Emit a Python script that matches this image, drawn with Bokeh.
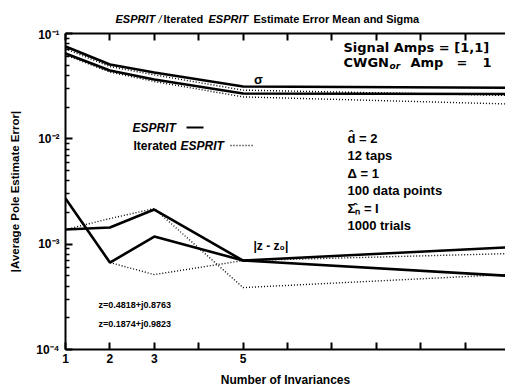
import math
from bokeh.plotting import figure
from bokeh.layouts import column
from bokeh.models import LinearAxis, FixedTicker, Label, Arrow, Range1d
from bokeh.embed import file_html
from bokeh.resources import INLINE

# ---------------- data ----------------
x_invariances = [1, 2, 3, 5, 11]
# sigma group (upper curves)
esprit_sigma_1 = [0.0752, 0.0508, 0.0426, 0.0314, 0.0305]
esprit_sigma_2 = [0.0646, 0.0445, 0.0366, 0.0269, 0.0266]
iterated_sigma_1 = [0.0715, 0.0485, 0.0405, 0.0290, 0.0258]
iterated_sigma_2 = [0.0625, 0.0430, 0.0350, 0.0250, 0.0214]
# |z - z0| group (lower curves)
esprit_err_1 = [0.00271, 0.000669, 0.00118, 0.000699, 0.000935]
esprit_err_2 = [0.001377, 0.001438, 0.002131, 0.000699, 0.000500]
iterated_err_1 = [0.00271, 0.000669, 0.000514, 0.000699, 0.000814]
iterated_err_2 = [0.001377, 0.00175, 0.002178, 0.000387, 0.000516]

x_ticks = [1, 2, 3, 4, 5, 6, 7, 8, 9, 10]
x_tick_labels = {1: "1", 2: "2", 3: "3", 5: "5"}
y_ticks = [1e-4, 1e-3, 1e-2, 1e-1]
y_tick_labels = ["10\u207b\u2074", "10\u207b\u00b3", "10\u207b\u00b2", "10\u207b\u00b9"]

FONT = "Liberation Sans"
WIDE = "DejaVu Sans"
FL, FB = 65, 349  # frame left / bottom in page pixels
TITLE_H = 27

# ---------------- title strip ----------------
tf = figure(width=505, height=TITLE_H, x_range=Range1d(0, 1), y_range=Range1d(0, 1),
            x_axis_location=None, y_axis_location=None, output_backend="svg",
            toolbar_location=None, min_border=0, min_border_left=FL, min_border_right=0)
tf.grid.visible = False
tf.outline_line_color = None
for txt, cx, st in [("ESPRIT", 115, "bold italic"), ("/", 158, "italic"),
                    ("Iterated", 163, "bold"), ("ESPRIT", 208, "bold italic"),
                    ("Estimate Error Mean and Sigma", 253, "bold")]:
    tf.add_layout(Label(x=cx - FL, y=TITLE_H - 18, x_units="screen", y_units="screen", text=txt,
                        text_font=FONT, text_font_size="11px", text_font_style=st,
                        text_align="left", text_baseline="middle", text_color="black"))

# ---------------- main plot ----------------
p = figure(width=505, height=390 - TITLE_H, x_range=Range1d(1, 10.91), y_range=Range1d(1e-4, 1e-1),
           y_axis_type="log", output_backend="svg", toolbar_location=None,
           min_border_left=FL, min_border_right=0, min_border_top=33 - TITLE_H, min_border_bottom=41)
p.grid.visible = False
p.outline_line_color = None

minor = [k * 10.0 ** e for e in (-4, -3, -2) for k in range(2, 10)]


def style_axis(ax):
    ax.axis_line_width = 2
    ax.axis_line_color = "black"
    ax.major_tick_in = 7
    ax.major_tick_out = 0
    ax.minor_tick_in = 4
    ax.minor_tick_out = 0
    ax.major_tick_line_width = 2
    ax.minor_tick_line_width = 1.5
    ax.major_label_text_font = FONT
    ax.major_label_text_font_style = "bold"
    ax.major_label_text_color = "black"
    ax.axis_label_text_font = FONT
    ax.axis_label_text_font_style = "bold"
    ax.axis_label_text_font_size = "12px"
    ax.axis_label_text_color = "black"


yax = p.yaxis[0]
style_axis(yax)
yax.ticker = FixedTicker(ticks=y_ticks, minor_ticks=minor)
yax.major_label_overrides = {t: s for t, s in zip(y_ticks, y_tick_labels)}
yax.major_label_text_font_size = "12px"
yax.major_label_standoff = 6
yax.axis_label = "|Average Pole Estimate Error|"
yax.axis_label_text_font_size = "11.5px"
yax.axis_label_standoff = 12

xax = p.xaxis[0]
style_axis(xax)
xax.ticker = FixedTicker(ticks=x_ticks, minor_ticks=[])
xax.major_label_overrides = {t: x_tick_labels.get(t, "") for t in x_ticks}
xax.major_label_text_font_size = "12px"
xax.major_label_standoff = 4
xax.axis_label = "Number of Invariances"
xax.axis_label_standoff = 7

top = LinearAxis(ticker=FixedTicker(ticks=x_ticks, minor_ticks=[]))
style_axis(top)
top.major_label_overrides = {t: "" for t in x_ticks}
top.major_label_text_font_size = "0px"
top.major_label_standoff = 0
p.add_layout(top, "above")

solid = dict(line_color="black", line_width=2.6)
dotted = dict(line_color="black", line_width=1.4, line_dash="1 2")

p.line(x_invariances, esprit_sigma_1, **solid)
p.line(x_invariances, esprit_sigma_2, **solid)
p.line(x_invariances, iterated_sigma_1, **dotted)
p.line(x_invariances, iterated_sigma_2, **dotted)
p.line(x_invariances, iterated_err_1, **dotted)
p.line(x_invariances, iterated_err_2, **dotted)
p.line(x_invariances, esprit_err_1, **solid)
p.line(x_invariances, esprit_err_2, **solid)


def lab(text, cx, cy, size, style="bold", align="left", angle=0.0, font=FONT):
    p.add_layout(Label(x=cx - FL, y=FB - cy, x_units="screen", y_units="screen", text=text,
                       text_font=font, text_font_size=f"{size}px", text_font_style=style,
                       text_align=align, text_baseline="middle", angle=angle,
                       text_color="black"))


def seg(x0, x1, cy, **kw):
    p.add_layout(Arrow(end=None, start=None, x_start=x0 - FL, y_start=FB - cy,
                       x_end=x1 - FL, y_end=FB - cy, start_units="screen",
                       end_units="screen", line_color="black", **kw))


# upper right notes
lab("Signal Amps = [1,1]", 343, 47, 13, font=WIDE)
lab("CWGN", 343, 62, 13, font=WIDE)
lab("or", 389, 65, 9, "bold italic", font=WIDE)
lab("Amp", 410, 62, 13, font=WIDE)
lab("=", 456, 62, 13, font=WIDE)
lab("1", 482, 62, 13, font=WIDE)
lab("\u03c3", 258, 79, 13, "bold", "center")

# legend
lab("ESPRIT", 132, 127, 12, "bold italic")
seg(186, 203, 127, line_width=2)
lab("Iterated", 133, 145, 12)
lab("ESPRIT", 180, 145, 12, "bold italic")
seg(230, 253, 145, line_width=1.3, line_dash="1 2")

# parameters
for i, txt in enumerate(["d\u0302 = 2", "12 taps", "\u0394 = 1", "100 data points",
                         "\u03a3\u0302\u2099 = I", "1000 trials"]):
    lab(txt, 347, 137.5 + 17.5 * i, 13)

lab("|z - z\u2080|", 253, 245, 12)
lab("z=0.4818+j0.8763", 98, 304, 9)
lab("z=0.1874+j0.9823", 98, 323, 9)

layout = column(tf, p, spacing=0)
open("out.html", "w").write(file_html(layout, INLINE))
